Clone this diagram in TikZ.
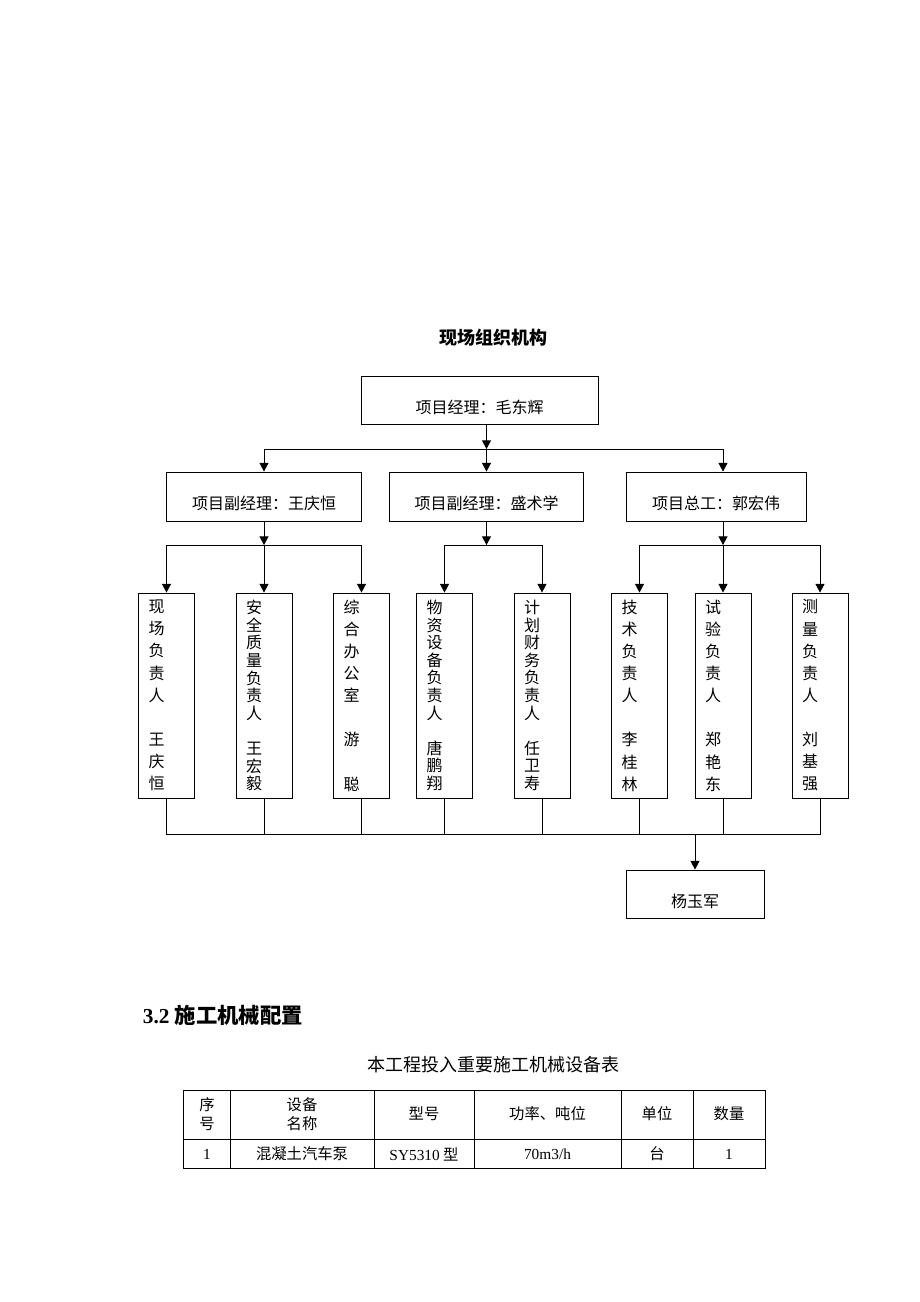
\documentclass[tikz,border=0pt]{standalone}
\usepackage{fontspec}
\setmainfont{Liberation Serif}
\newfontfamily\cjk{Noto Sans CJK SC}
\usetikzlibrary{arrows.meta}
\newcommand{\lowtext}[1]{\raisebox{-5.25pt}[\height][\depth]{#1}}
\begin{document}
\begin{tikzpicture}[x=0.75pt, y=-0.75pt, line width=0.7pt,
  box/.style={draw, inner sep=0pt, font=\cjk\fontsize{12pt}{14pt}\selectfont},
  staff/.style={draw, inner xsep=7.5pt, inner ysep=0pt, text width=27pt, align=left,
    minimum height=153.75pt, font=\cjk\fontsize{12pt}{#1}\selectfont},
  arr/.style={-{Triangle[length=6.5pt,width=6.75pt]}},
  cell/.style={inner sep=0pt, align=center, font=\cjk\fontsize{11.5pt}{14pt}\selectfont}]
\useasboundingbox (0,0) rectangle (920,1302);
\node[font=\cjk\bfseries\fontsize{13.5pt}{16pt}\selectfont] (title) at (493,338) {现场组织机构};
\node[box, minimum width=177.75pt, minimum height=36pt] (pm) at (479.5,400) {\lowtext{项目经理：毛东辉}};
\coordinate (j0) at (486.5,449);
\coordinate (ja) at (264,449);
\coordinate (jc) at (723,449);
\draw[arr](pm.south -| j0) -- (j0);
\draw[](ja) -- (jc);
\node[box, minimum width=146.25pt, minimum height=36.75pt] (dA) at (264,496.5) {\lowtext{项目副经理：王庆恒}};
\node[box, minimum width=145.5pt, minimum height=36.75pt] (dB) at (486.5,496.5) {\lowtext{项目副经理：盛术学}};
\node[box, minimum width=135pt, minimum height=36.75pt] (dC) at (716,496.5) {\lowtext{项目总工：郭宏伟}};
\draw[arr](ja) -- (dA);
\draw[arr](j0) -- (dB);
\draw[arr](jc) -- (dC.north -| jc);
\node[staff=16.6pt] (m1) at (166.5,695.5) {现\\场\\负\\责\\人\\~\\王\\庆\\恒};
\node[staff=13.2pt] (m2) at (264,695.5) {安\\全\\质\\量\\负\\责\\人\\~\\王\\宏\\毅};
\node[staff=16.6pt] (m3) at (361.5,695.5) {综\\合\\办\\公\\室\\~\\游\\~\\聪};
\node[staff=13.2pt] (m4) at (444.5,695.5) {物\\资\\设\\备\\负\\责\\人\\~\\唐\\鹏\\翔};
\node[staff=13.2pt] (m5) at (542,695.5) {计\\划\\财\\务\\负\\责\\人\\~\\任\\卫\\寿};
\node[staff=16.6pt] (m6) at (639.5,695.5) {技\\术\\负\\责\\人\\~\\李\\桂\\林};
\node[staff=16.6pt] (m7) at (723,695.5) {试\\验\\负\\责\\人\\~\\郑\\艳\\东};
\node[staff=16.6pt] (m8) at (820,695.5) {测\\量\\负\\责\\人\\~\\刘\\基\\强};
\coordinate (ka) at (264,545);
\coordinate (kb) at (486.5,545);
\coordinate (kc) at (723,545);
\draw[arr](dA) -- (ka);
\draw[arr](dB) -- (kb);
\draw[arr](dC.south -| kc) -- (kc);
\draw[](m1.north |- ka) -- (m3.north |- ka);
\draw[](m4.north |- kb) -- (m5.north |- kb);
\draw[](m6.north |- kc) -- (m8.north |- kc);
\foreach \m in {m1,m2,m3,m4,m5,m6,m7,m8}
  \draw[arr](\m.north |- ka) -- (\m.north);
\coordinate (kd) at (695,834);
\draw[](m1.south) -- (m1.south |- kd) -- (m8.south |- kd) -- (m8.south);
\foreach \m in {m2,m3,m4,m5,m6,m7}
  \draw[](\m.south) -- (\m.south |- kd);
\node[box, minimum width=103.5pt, minimum height=36pt] (yy) at (695,894) {\lowtext{杨玉军}};
\draw[arr](kd) -- (yy);
\node[anchor=west, font=\bfseries\fontsize{16pt}{18pt}\selectfont] (sec) at (138,1015) {3.2 {\cjk 施工机械配置}};
\node[font=\cjk\fontsize{13.5pt}{16pt}\selectfont] (cap) at (493,1065) {本工程投入重要施工机械设备表};
\draw[] (183.5,1090) rectangle (765,1168.5);
\draw[] (183.5,1139.5) -- (765,1139.5);
\foreach \x in {230,374,474,621,693}
  \draw[] (\x,1090) -- (\x,1168.5);
\node[cell] (h1) at (207,1114) {序\\号};
\node[cell] (h2) at (302,1114) {设备\\名称};
\node[cell] (h3) at (424,1114) {型号};
\node[cell] (h4) at (547.5,1114) {功率、吨位};
\node[cell] (h5) at (657,1114) {单位};
\node[cell] (h6) at (729,1114) {数量};
\node[cell] (r1) at (207,1154) {\rmfamily 1};
\node[cell] (r2) at (302,1154) {混凝土汽车泵};
\node[cell] (r3) at (424,1154) {{\rmfamily SY5310} 型};
\node[cell] (r4) at (547.5,1154) {\rmfamily 70m3/h};
\node[cell] (r5) at (657,1154) {台};
\node[cell] (r6) at (729,1154) {\rmfamily 1};
\end{tikzpicture}
\end{document}
